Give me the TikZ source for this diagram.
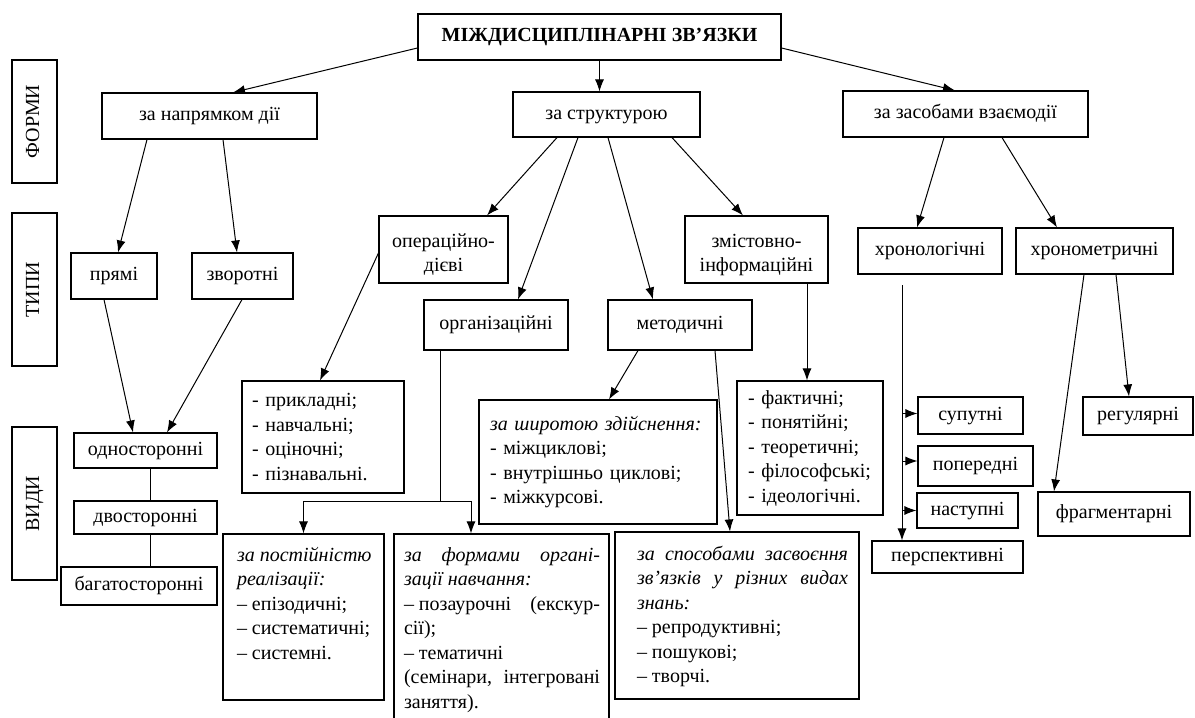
\documentclass[tikz,border=0pt]{standalone}
\usepackage{fontspec}
\setmainfont{Liberation Serif}
\usetikzlibrary{arrows.meta,calc}
\tikzset{
  box/.style={draw, line width=1.1pt, inner sep=0pt, font=\fontsize{20}{24.5}\selectfont, align=center, text height=13.5pt, text depth=4.5pt},
  boxtwo/.style={draw, line width=1.1pt, inner sep=0pt, font=\fontsize{20}{24.5}\selectfont, align=center},
  lst/.style={draw, line width=1.1pt, inner sep=0pt, font=\fontsize{20}{24.5}\selectfont, align=left},
  pb/.style={draw, line width=1.1pt, inner sep=0pt, font=\fontsize{20}{24.5}\selectfont},
  arr/.style={line width=1pt, -{Latex[length=12pt,width=9pt]}},
  ln/.style={line width=1pt},
}
\begin{document}
\begin{tikzpicture}[x=1pt,y=-1pt]
\path[use as bounding box] (0,0) rectangle (1195,718);
\clip (0,0) rectangle (1195,718);
\fill[white] (0,0) rectangle (1195,718);

% side labels
\node[box, rotate=90, minimum width=123, minimum height=45] (forms) at (34.5,121.5) {ФОРМИ};
\node[box, rotate=90, minimum width=153, minimum height=45] (types) at (34.5,289.5) {ТИПИ};
\node[box, rotate=90, minimum width=153, minimum height=45] (vydy) at (34.5,503.5) {ВИДИ};

% top
\node[box, minimum width=363, minimum height=46] (title) at (599.5,37) {\textbf{МІЖДИСЦИПЛІНАРНІ ЗВ’ЯЗКИ}};
\node[box, minimum width=215, minimum height=46] (napr) at (209.5,116) {за напрямком дії};
\node[box, minimum width=187, minimum height=45] (str) at (606.5,114.5) {за структурою};
\node[box, minimum width=245, minimum height=46] (zas) at (965.5,114) {за засобами взаємодії};

% types
\node[box, minimum width=86, minimum height=46] (pryami) at (114,276) {прямі};
\node[box, minimum width=101, minimum height=46] (zvor) at (242.5,276) {зворотні};
\node[boxtwo, minimum width=129, minimum height=67] (oper) at (443.5,249.5) {\rule{0pt}{24pt}операційно-\\дієві};
\node[box, minimum width=144, minimum height=50] (org) at (496,325) {організаційні};
\node[box, minimum width=144, minimum height=50] (met) at (680,325) {методичні};
\node[boxtwo, minimum width=143, minimum height=67] (zmist) at (756.5,249.5) {\rule{0pt}{24pt}змістовно-\\інформаційні};
\node[box, minimum width=144, minimum height=46] (chronol) at (930,251) {хронологічні};
\node[box, minimum width=157, minimum height=46] (chronom) at (1094.5,251) {хронометричні};

% kinds
\node[box, minimum width=143, minimum height=35] (odno) at (145.5,450.5) {односторонні};
\node[box, minimum width=143, minimum height=33] (dvo) at (145.5,517.5) {двосторонні};
\node[box, minimum width=156, minimum height=38] (bagato) at (139,586) {багатосторонні};

\node[lst, minimum width=162, minimum height=112, text width=142] (prykl) at (323,437)
  {- прикладні;\\- навчальні;\\- оціночні;\\- пізнавальні.};
\node[lst, minimum width=238, minimum height=124, text width=216] (shyr) at (598,462)
  {\textit{за широтою здійснення:}\\- міжциклові;\\- внутрішньо циклові;\\- міжкурсові.};
\node[lst, minimum width=146, minimum height=134, text width=124] (fakt) at (810,448)
  {- фактичні;\\- понятійні;\\- теоретичні;\\- філософські;\\- ідеологічні.};

\node[pb, minimum width=161, minimum height=166] (post) at (303.5,617)
  {\parbox[c][166pt][t]{161pt}{\vspace*{10pt}\hspace*{14pt}\parbox[t]{145pt}{\strut\textit{за постійністю}\\\textit{реалізації:}\\– епізодичні;\\– систематичні;\\– системні.}}};
\node[pb, minimum width=215, minimum height=192] (form) at (501.5,630)
  {\parbox[c][192pt][t]{215pt}{\vspace*{10pt}\hspace*{10pt}\parbox[t]{196pt}{\strut\textit{за\hfill формами\hfill органі-}\\\textit{зації навчання:}\\– позаурочні\hfill (екскур-\\сії);\\– тематичні\\(семінари,\hfill інтегровані\\заняття).}}};
\node[pb, minimum width=244, minimum height=167] (spos) at (737,615.5)
  {\parbox[c][167pt][t]{244pt}{\vspace*{11pt}\hspace*{22pt}\parbox[t]{211pt}{\strut\textit{за\hfill способами\hfill засвоєння}\\\textit{зв’язків\hfill у\hfill різних\hfill видах}\\\textit{знань:}\\– репродуктивні;\\– пошукові;\\– творчі.}}};

\node[box, minimum width=105, minimum height=37] (suput) at (970.5,415.5) {супутні};
\node[box, minimum width=115, minimum height=40] (poper) at (975.5,466) {попередні};
\node[box, minimum width=101, minimum height=35] (nast) at (967.5,510.5) {наступні};
\node[box, minimum width=151, minimum height=32] (persp) at (947.5,557) {перспективні};
\node[box, minimum width=110, minimum height=38] (regul) at (1138,416) {регулярні};
\node[box, minimum width=152, minimum height=44] (frag) at (1114,514) {фрагментарні};

% connectors
\draw[arr] ([yshift=-11pt]title.west) -- ([xshift=23.5pt]napr.north);
\draw[arr] (title.south) -- (title.south |- str.north);
\draw[arr] ([yshift=-11pt]title.east) -- ([xshift=-10.5pt]zas.north);

\draw[arr] ([xshift=-62.5pt]napr.south) -- ([xshift=4pt]pryami.north);
\draw[arr] ([xshift=13.5pt]napr.south) -- ([xshift=-5.5pt]zvor.north);
\draw[arr] ([xshift=-10pt]pryami.south) -- ([xshift=-12.5pt]odno.north);
\draw[arr] ([xshift=-0.5pt]zvor.south) -- ([xshift=21.5pt]odno.north);
\draw[ln] ([xshift=4.5pt]odno.south) -- ([xshift=4.5pt]dvo.north);
\draw[ln] ([xshift=4.5pt]dvo.south) -- ([xshift=11pt]bagato.north);

\draw[arr] ([xshift=-49.5pt]str.south) -- ([xshift=43.5pt]oper.north);
\draw[arr] ([xshift=-28.5pt]str.south) -- ([xshift=22pt]org.north);
\draw[arr] ([xshift=1.5pt]str.south) -- ([xshift=-27pt]met.north);
\draw[arr] ([xshift=65.5pt]str.south) -- ([xshift=-13.5pt]zmist.north);

\draw[arr] ([xshift=-21.5pt]zas.south) -- ([xshift=-13pt]chronol.north);
\draw[arr] ([xshift=36.5pt]zas.south) -- ([xshift=-37.5pt]chronom.north);

\draw[arr] ([yshift=-3.5pt]oper.west) -- ([xshift=-3pt]prykl.north);

\coordinate (j) at (440,501);
\draw[ln] ([xshift=-56pt]org.south) -- (j);
\draw[arr] (j) -| (post.north);
\draw[arr] (j) -| ([xshift=-30.5pt]form.north);

\draw[arr] ([xshift=-42pt]met.south) -- ([xshift=11pt]shyr.north);
\draw[arr] ([xshift=35pt]met.south) -- ([xshift=-7pt]spos.north);
\draw[arr] ([xshift=50.5pt]zmist.south) -- ([xshift=-3pt]fakt.north);

\coordinate (c1) at (902,285);
\draw[arr] (c1) -- (c1 |- persp.north);
\draw[arr] ($(suput.west -| c1)+(0,-2)$) -- ($(suput.west)+(0,-2)$);
\draw[arr] ($(poper.west -| c1)+(0,-5)$) -- ($(poper.west)+(0,-5)$);
\draw[arr] (nast.west -| c1) -- (nast.west);

\draw[arr] ([xshift=-10.5pt]chronom.south) -- ([xshift=-60pt]frag.north);
\draw[arr] ([xshift=21.5pt]chronom.south) -- ([xshift=-9pt]regul.north);
\end{tikzpicture}
\end{document}
